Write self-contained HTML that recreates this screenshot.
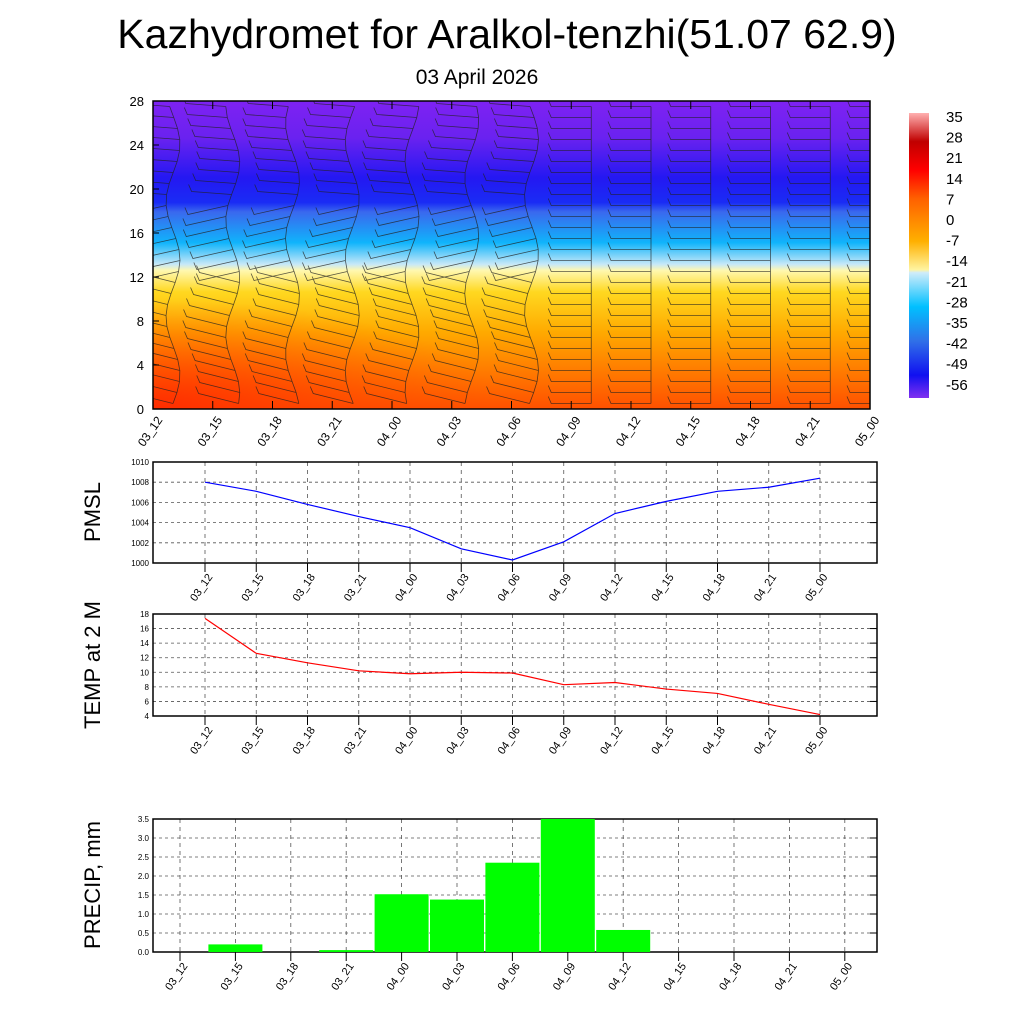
<!DOCTYPE html>
<html><head><meta charset="utf-8"><style>
body{margin:0;background:#fff;}
svg text{font-family:"Liberation Sans",sans-serif;}
</style></head><body>
<svg id="s" width="1024" height="1024" viewBox="0 0 1024 1024" xmlns="http://www.w3.org/2000/svg">
<defs>
<clipPath id="pc"><rect x="153" y="101" width="717" height="308"/></clipPath>
<linearGradient id="tg" x1="0" y1="0" x2="0" y2="1">
<stop offset="0" stop-color="#7e22f2"/>
<stop offset="0.12" stop-color="#6a22f0"/>
<stop offset="0.25" stop-color="#2418f2"/>
<stop offset="0.33" stop-color="#1a2cf5"/>
<stop offset="0.36" stop-color="#3a68ee"/>
<stop offset="0.46" stop-color="#10b4fb"/>
<stop offset="0.53" stop-color="#c6e8f8"/>
<stop offset="0.55" stop-color="#fff8b0"/>
<stop offset="0.62" stop-color="#ffd820"/>
<stop offset="0.75" stop-color="#ffaa00"/>
<stop offset="0.88" stop-color="#ff7a00"/>
<stop offset="1" stop-color="#ff5000"/>
</linearGradient>
<radialGradient id="rg" cx="0" cy="1" r="1">
<stop offset="0" stop-color="#ff2a00" stop-opacity="0.95"/>
<stop offset="1" stop-color="#ff4a00" stop-opacity="0"/>
</radialGradient>
<linearGradient id="cb" x1="0" y1="0" x2="0" y2="1">
<stop offset="0" stop-color="#ffb0b0"/>
<stop offset="0.1" stop-color="#c00000"/>
<stop offset="0.2" stop-color="#ff0000"/>
<stop offset="0.3" stop-color="#ff6000"/>
<stop offset="0.45" stop-color="#ffb000"/>
<stop offset="0.55" stop-color="#fff4a0"/>
<stop offset="0.56" stop-color="#d0ecfa"/>
<stop offset="0.68" stop-color="#00c0ff"/>
<stop offset="0.8" stop-color="#3070e8"/>
<stop offset="0.92" stop-color="#1010f0"/>
<stop offset="1" stop-color="#8030f0"/>
</linearGradient>
</defs>
<text x="507" y="48" font-size="41" text-anchor="middle">Kazhydromet for Aralkol-tenzhi(51.07 62.9)</text>
<text x="477" y="84" font-size="21" text-anchor="middle">03 April 2026</text>
<g id="topPanel">
<rect x="153" y="101" width="717" height="308" fill="url(#tg)"/>
<rect x="153" y="300" width="350" height="109" fill="url(#rg)"/>
<g id="barbs" stroke="#222" stroke-width="0.8" fill="none" opacity="0.75" clip-path="url(#pc)"></g>
<rect x="153" y="101" width="717" height="308" fill="none" stroke="#000" stroke-width="1.5"/>
</g>
<g>
<rect x="909" y="113" width="20" height="285" fill="url(#cb)"/>
<g id="cbl" font-size="15"></g>
</g>
<g id="pm"></g>
<g id="tp"></g>
<g id="pr"></g>
<text transform="translate(100,512) rotate(-90)" font-size="22" text-anchor="middle">PMSL</text>
<text transform="translate(100,665) rotate(-90)" font-size="22" text-anchor="middle">TEMP at 2 M</text>
<text transform="translate(100,885) rotate(-90)" font-size="22" text-anchor="middle">PRECIP, mm</text>
</svg>
<script>
const times=["03_12","03_15","03_18","03_21","04_00","04_03","04_06","04_09","04_12","04_15","04_18","04_21","05_00"];
const pmsl=[1008,1007.1,1005.8,1004.6,1003.5,1001.4,1000.3,1002.1,1004.9,1006.1,1007.1,1007.5,1008.4];
const temp=[17.4,12.6,11.3,10.2,9.8,10,9.9,8.3,8.6,7.7,7.1,5.6,4.2];
const precip=[0,0.2,0,0.05,1.52,1.38,2.35,3.5,0.58,0,0,0,0];
const heightTicks=[0,4,8,12,16,20,24,28];
const pmslTicks=[1000,1002,1004,1006,1008,1010];
const tempTicks=[4,6,8,10,12,14,16,18];
const precipTicks=[0,0.5,1,1.5,2,2.5,3,3.5];
const cbLabels=["35","28","21","14","7","0","-7","-14","-21","-28","-35","-42","-49","-56"];
const NS="http://www.w3.org/2000/svg";
function mk(p,t,a){const e=document.createElementNS(NS,t);for(const k in a)e.setAttribute(k,a[k]);p.appendChild(e);return e;}
const topG=document.getElementById('topPanel');
const tx=i=>153+i*(717/12), ty=v=>409-v*308/28;
heightTicks.forEach(v=>{const t=mk(topG,'text',{x:144,y:ty(v)+5,'font-size':13,'text-anchor':'end'});t.textContent=v;


mk(topG,'line',{x1:153,x2:159,y1:ty(v),y2:ty(v),stroke:'#000'});});
times.forEach((s,i)=>{const x=tx(i);const t=mk(topG,'text',{transform:`translate(${x+10},${420}) rotate(-55)`,'font-size':12,'text-anchor':'end'});t.textContent=s;


mk(topG,'line',{x1:x,x2:x,y1:401,y2:409,stroke:'#000'});
mk(topG,'line',{x1:x,x2:x,y1:101,y2:109,stroke:'#000'});});
const bg=document.getElementById('barbs');
for(let i=0;i<13;i++){
  const calm=i>=7;
  let pts=[];
  for(let h=0;h<28;h+=1){
    const x=tx(i)+20+(calm?0:7*Math.sin(h*0.6+i)),y=ty(h+0.5);
    pts.push(x+','+y);
    const dy=calm?0:(h<12?-10:(h<19?9:-3));
    const l=mk(bg,'path',{d:`M${x} ${y} l-40 ${dy} l-3 -7`});
    
    
  }
  const st=mk(bg,'polyline',{points:pts.join(' ')});
  
  
}
const cbl=document.getElementById('cbl');
cbLabels.forEach((s,i)=>{const t=mk(cbl,'text',{x:946,y:122+i*20.6});t.textContent=s;

});
function panel(g,y0,y1,ticks,xs,labelY,fmt){
  const lo=ticks[0],hi=ticks[ticks.length-1];
  const Y=v=>y1-(v-lo)/(hi-lo)*(y1-y0);
  ticks.forEach(v=>{mk(g,'line',{x1:153,x2:877,y1:Y(v),y2:Y(v),stroke:'#555','stroke-dasharray':'3,3','stroke-width':0.8});
    const t=mk(g,'text',{x:149,y:Y(v)+3,'font-size':8,'text-anchor':'end'});t.textContent=fmt(v);
    
    
    mk(g,'line',{x1:870,x2:877,y1:Y(v),y2:Y(v),stroke:'#000'});});
  xs.forEach((x,i)=>{mk(g,'line',{x1:x,x2:x,y1:y0,y2:y1,stroke:'#555','stroke-dasharray':'4,4','stroke-width':0.8});
    mk(g,'line',{x1:x,x2:x,y1:y1,y2:y1+9,stroke:'#000'});
    const t=mk(g,'text',{transform:`translate(${x+8},${labelY}) rotate(-55)`,'font-size':11,'text-anchor':'end'});t.textContent=times[i];
    
    });
  mk(g,'rect',{x:153,y:y0,width:724,height:y1-y0,fill:'none',stroke:'#000','stroke-width':1.5});
  return Y;
}
const px=i=>205+i*51.25;
const pmG=document.getElementById('pm');
const Yp=panel(pmG,462,563,pmslTicks,times.map((_,i)=>px(i)),577,v=>v);
const lp=mk(pmG,'polyline',{points:pmsl.map((v,i)=>px(i)+','+Yp(v)).join(' '),fill:'none',stroke:'#0000ff','stroke-width':1.2});


const tpG=document.getElementById('tp');
const Yt=panel(tpG,614,716,tempTicks,times.map((_,i)=>px(i)),730,v=>v);
const lt=mk(tpG,'polyline',{points:temp.map((v,i)=>px(i)+','+Yt(v)).join(' '),fill:'none',stroke:'#ff0000','stroke-width':1.2});


const rx=i=>180+i*55.4;
const prG=document.getElementById('pr');
const Yr=panel(prG,819,952,precipTicks,times.map((_,i)=>rx(i)),966,v=>v.toFixed(1));
precip.forEach((v,i)=>{if(v<=0)return;const b=mk(prG,'rect',{x:rx(i)-27,y:Yr(v),width:54,height:952-Yr(v),fill:'#00ff00'});

});
</script>
</body></html>
